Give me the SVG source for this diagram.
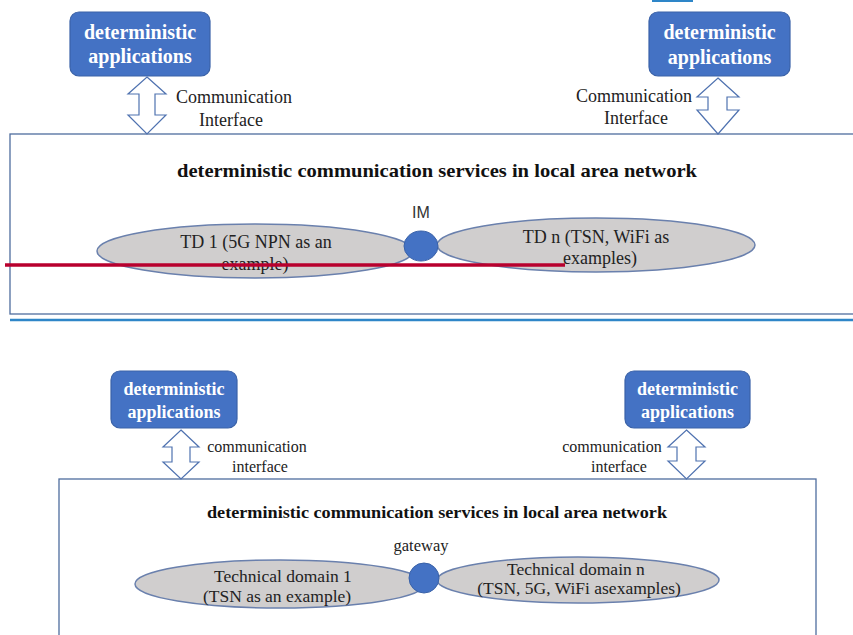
<svg xmlns="http://www.w3.org/2000/svg" width="853" height="635" viewBox="0 0 853 635">
<style>
.app{fill:#4472c4;stroke:#3a62a8;stroke-width:1.2}
.appt{font-family:"Liberation Serif",serif;font-weight:bold;fill:#ffffff;text-anchor:middle}
.frame{fill:#ffffff;stroke:#4f6d9e;stroke-width:1.3}
.ell{fill:#d0cece;stroke:#6a80ad;stroke-width:1.5}
.hub{fill:#4472c4;stroke:#3a62a8;stroke-width:1}
.dbl{fill:#ffffff;stroke:#4f72b0;stroke-width:1.2;stroke-linejoin:miter}
.lbl{font-family:"Liberation Serif",serif;fill:#222222;text-anchor:middle}
.ttl{font-family:"Liberation Serif",serif;font-weight:bold;fill:#111111;text-anchor:middle}
</style>
<rect x="0" y="0" width="853" height="635" fill="#ffffff"/>
<rect x="652" y="0" width="41" height="2" fill="#2e86c8"/>

<!-- top section -->
<g id="frame-top">
<rect class="frame" x="10" y="134" width="850" height="180"/>
<text class="ttl" x="437" y="177" font-size="19" textLength="520" lengthAdjust="spacingAndGlyphs">deterministic communication services in local area network</text>
</g>
<g id="app-top-left">
<rect class="app" x="70" y="12" width="140" height="64" rx="9"/>
<text class="appt" x="140" y="39" font-size="20">deterministic</text>
<text class="appt" x="140" y="63" font-size="20">applications</text>
</g>
<g id="app-top-right">
<rect class="app" x="649" y="12" width="141" height="64" rx="9"/>
<text class="appt" x="719.5" y="39" font-size="20">deterministic</text>
<text class="appt" x="719.5" y="64" font-size="20">applications</text>
</g>
<g id="td1-top">
<ellipse class="ell" cx="255" cy="251" rx="158" ry="27"/>
<text class="lbl" x="256" y="248" font-size="18">TD 1 (5G NPN as an</text>
<text class="lbl" x="255" y="270" font-size="18">example)</text>
</g>
<g id="tdn-top">
<ellipse class="ell" cx="596" cy="245" rx="159" ry="27"/>
<text class="lbl" x="596" y="243" font-size="18">TD n (TSN, WiFi as</text>
<text class="lbl" x="600" y="264" font-size="18">examples)</text>
</g>
<g id="im">
<ellipse class="hub" cx="421" cy="246" rx="17" ry="15"/>
<text x="421" y="218" font-family="Liberation Sans,sans-serif" font-size="16" fill="#333333" text-anchor="middle">IM</text>
</g>

<!-- bottom section -->
<g id="frame-bottom">
<rect class="frame" x="59" y="479" width="757" height="170"/>
<text class="ttl" x="437" y="518" font-size="17" textLength="460" lengthAdjust="spacingAndGlyphs">deterministic communication services in local area network</text>
</g>
<g id="app-bottom-left">
<rect class="app" x="111" y="371" width="126" height="57" rx="9"/>
<text class="appt" x="174" y="395" font-size="18">deterministic</text>
<text class="appt" x="174" y="418" font-size="18">applications</text>
</g>
<g id="app-bottom-right">
<rect class="app" x="625" y="371" width="125" height="57" rx="9"/>
<text class="appt" x="687.5" y="395" font-size="18">deterministic</text>
<text class="appt" x="687.5" y="418" font-size="18">applications</text>
</g>
<g id="td1-bottom">
<ellipse class="ell" cx="280" cy="584" rx="145" ry="24"/>
<text class="lbl" x="283" y="582" font-size="17.5">Technical domain 1</text>
<text class="lbl" x="277" y="602" font-size="17.5">(TSN as an example)</text>
</g>
<g id="tdn-bottom">
<ellipse class="ell" cx="578" cy="580" rx="141" ry="23"/>
<text class="lbl" x="576" y="575" font-size="17.5">Technical domain n</text>
<text class="lbl" x="579" y="594" font-size="17.5">(TSN, 5G, WiFi asexamples)</text>
</g>
<g id="gateway">
<ellipse class="hub" cx="424" cy="578" rx="15" ry="15"/>
<text class="lbl" x="421" y="551" font-size="16.5">gateway</text>
</g>

<!-- connectors: communication interfaces -->
<g id="connectors">
<polygon class="dbl" points="147,77 166,94 155,94 155,115 166,115 147,134 128,115 139,115 139,94 128,94"/>
<polygon class="dbl" points="718,78 739,97 727,97 727,110 739,110 718,134 697,110 708,110 708,97 697,97"/>
<polygon class="dbl" points="181,430 199,447 190,447 190,462 199,462 181,479 163,462 172,462 172,447 163,447"/>
<polygon class="dbl" points="686.5,430 705,447 696,447 696,461 705,461 686.5,479 668,461 677,461 677,447 668,447"/>
<text class="lbl" x="234" y="103" font-size="18">Communication</text>
<text class="lbl" x="231" y="126" font-size="18">Interface</text>
<text class="lbl" x="634" y="102" font-size="18">Communication</text>
<text class="lbl" x="636" y="124" font-size="18">Interface</text>
<text class="lbl" x="257" y="452" font-size="16">communication</text>
<text class="lbl" x="260" y="472" font-size="16">interface</text>
<text class="lbl" x="612" y="452" font-size="16">communication</text>
<text class="lbl" x="619" y="472" font-size="16">interface</text>
</g>

<!-- overlays -->
<line x1="10" y1="320" x2="853" y2="320" stroke="#2e86c8" stroke-width="2.5"/>
<line x1="5" y1="265" x2="565" y2="265" stroke="#b8002e" stroke-width="3.5"/>
</svg>
